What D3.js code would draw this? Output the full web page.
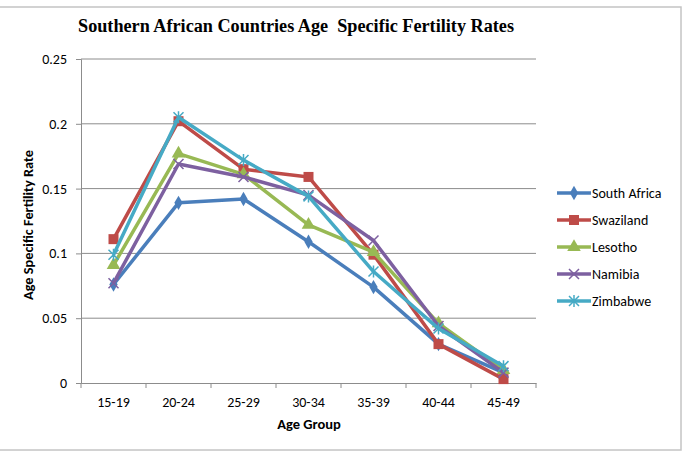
<!DOCTYPE html>
<html>
<head>
<meta charset="utf-8">
<script src="https://d3js.org/d3.v7.min.js"></script>
<style>
  body { margin: 0; background: #fff; }
  text { font-family: Calibri, Carlito, "Liberation Sans", Arial, sans-serif; }
</style>
</head>
<body>
<div id="chart"></div>
<script>
// data
const ageGroups = ["15-19", "20-24", "25-29", "30-34", "35-39", "40-44", "45-49"];
const southAfrica = [0.076, 0.139, 0.142, 0.109, 0.074, 0.030, 0.008];
const swaziland   = [0.111, 0.202, 0.165, 0.159, 0.099, 0.030, 0.003];
const lesotho     = [0.091, 0.177, 0.161, 0.122, 0.101, 0.046, 0.010];
const namibia     = [0.077, 0.169, 0.159, 0.145, 0.110, 0.044, 0.008];
const zimbabwe    = [0.099, 0.205, 0.172, 0.144, 0.086, 0.042, 0.013];
const yTicks = [0, 0.05, 0.1, 0.15, 0.2, 0.25];

const series = [
  { name: "South Africa", values: southAfrica, color: "#4a7ebb", marker: "diamond" },
  { name: "Swaziland",    values: swaziland,   color: "#be4b48", marker: "square" },
  { name: "Lesotho",      values: lesotho,     color: "#98b954", marker: "triangle" },
  { name: "Namibia",      values: namibia,     color: "#7d60a0", marker: "x" },
  { name: "Zimbabwe",     values: zimbabwe,    color: "#46aac5", marker: "star" }
];

const W = 686, H = 452;
const margin = { top: 59, left: 81 };
const width = 536 - margin.left, height = 383 - margin.top;

const svg = d3.select("#chart").append("svg")
  .attr("width", W).attr("height", H);

// outer chart border (left edge is cut off in the picture)
svg.append("rect")
  .attr("x", -2).attr("y", 7).attr("width", 683).attr("height", 443)
  .attr("fill", "none").attr("stroke", "#c4c4c4").attr("stroke-width", 1.5);

svg.append("text")
  .attr("x", 296).attr("y", 32)
  .attr("text-anchor", "middle")
  .style("font-family", "'Liberation Serif', 'Times New Roman', serif")
  .style("font-weight", "bold").style("font-size", "18.2px")
  .style("white-space", "pre")
  .text("Southern African Countries Age  Specific Fertility Rates");

const g = svg.append("g").attr("transform", `translate(${margin.left},${margin.top})`);

const x = d3.scaleBand().domain(ageGroups).range([0, width]);
const y = d3.scaleLinear().domain([0, 0.25]).range([height, 0]);
const cx = d => x(d) + x.bandwidth() / 2;

// gridlines
g.append("g").selectAll("line").data(yTicks.slice(1)).join("line")
  .attr("x1", 0).attr("x2", width)
  .attr("y1", d => y(d)).attr("y2", d => y(d))
  .attr("stroke", "#8c8c8c").attr("stroke-width", 1);

// y axis
const yAxis = g.append("g")
  .call(d3.axisLeft(y).tickValues(yTicks).tickFormat(d => d === 0 ? "0" : String(d)).tickSize(5).tickPadding(9));
yAxis.select(".domain").attr("stroke", "#8c8c8c");
yAxis.selectAll(".tick line").attr("stroke", "#8c8c8c");
yAxis.selectAll("text").style("font-size", "14px").attr("fill", "#000");

// x axis with ticks at category boundaries
const xAxis = g.append("g").attr("transform", `translate(0,${height})`)
  .call(d3.axisBottom(x).tickSize(0).tickPadding(14));
xAxis.select(".domain").attr("stroke", "#8c8c8c");
xAxis.selectAll("text").style("font-size", "14px").attr("fill", "#000");
g.append("g").selectAll("line").data(ageGroups.concat(["end"])).join("line")
  .attr("x1", (d, i) => i * x.bandwidth()).attr("x2", (d, i) => i * x.bandwidth())
  .attr("y1", height).attr("y2", height + 5)
  .attr("stroke", "#8c8c8c");

// axis titles
svg.append("text")
  .attr("x", 309).attr("y", 429)
  .attr("text-anchor", "middle")
  .style("font-weight", "bold").style("font-size", "14.5px")
  .text("Age Group");
svg.append("text")
  .attr("transform", "translate(33,225) rotate(-90)")
  .attr("text-anchor", "middle")
  .style("font-weight", "bold").style("font-size", "14.3px")
  .text("Age Specific Fertility Rate");

const line = d3.line().x((d, i) => cx(ageGroups[i])).y(d => y(d));

function drawMarker(sel, type, color) {
  if (type === "diamond") {
    sel.append("path").attr("d", d3.symbol(d3.symbolDiamond, 60)()).attr("fill", color);
  } else if (type === "square") {
    sel.append("path").attr("d", d3.symbol(d3.symbolSquare, 100)()).attr("fill", color);
  } else if (type === "triangle") {
    sel.append("path").attr("d", d3.symbol(d3.symbolTriangle, 80)()).attr("fill", color);
  } else if (type === "x") {
    sel.append("path").attr("d", "M-5,-5L5,5M-5,5L5,-5").attr("stroke", color).attr("stroke-width", 1.5);
  } else {
    sel.append("path").attr("d", "M-5,-5L5,5M-5,5L5,-5M0,-6L0,6").attr("stroke", color).attr("stroke-width", 1.5);
  }
}

series.forEach(s => {
  g.append("path").datum(s.values)
    .attr("d", line)
    .attr("fill", "none").attr("stroke", s.color)
    .attr("stroke-width", 3.5).attr("stroke-linejoin", "round");
  g.append("g").selectAll("g").data(s.values).join("g")
    .attr("transform", (d, i) => `translate(${cx(ageGroups[i])},${y(d)})`)
    .each(function () { drawMarker(d3.select(this), s.marker, s.color); });
});

// legend
const legend = svg.append("g").selectAll("g").data(series).join("g")
  .attr("transform", (d, i) => `translate(557,${193 + i * 27})`);
legend.append("line")
  .attr("x1", 0).attr("x2", 34).attr("y1", 0).attr("y2", 0)
  .attr("stroke", d => d.color).attr("stroke-width", 3.5);
legend.append("g").attr("transform", "translate(17,0)")
  .each(function (d) { drawMarker(d3.select(this), d.marker, d.color); });
legend.append("text")
  .attr("x", 35).attr("y", 0).attr("dy", "0.35em")
  .style("font-size", "14px")
  .text(d => d.name);
</script>
</body>
</html>
